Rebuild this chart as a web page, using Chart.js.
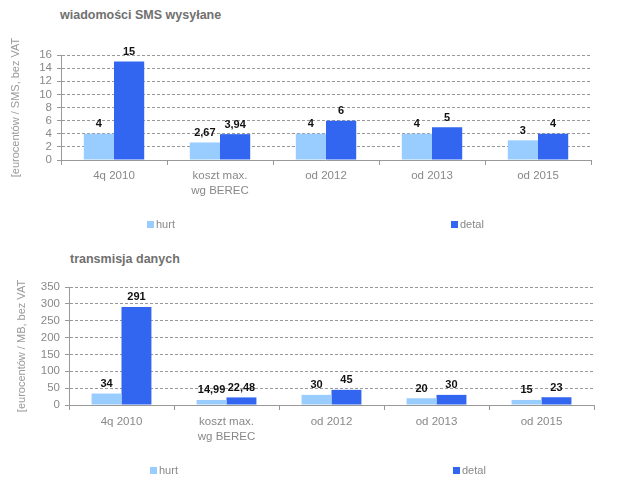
<!DOCTYPE html>
<html>
<head>
<meta charset="utf-8">
<script src="https://cdn.jsdelivr.net/npm/chart.js@4"></script>
<style>
  body { margin: 0; background: #fff; }
  #wrap { position: relative; width: 640px; height: 493px; font-family: "Liberation Sans", Arial, sans-serif; }
  canvas { position: absolute; left: 0; }
  .title { position: absolute; font-weight: bold; font-size: 12.5px; color: #707070; line-height: 16px; white-space: nowrap; }
  .leg { position: absolute; font-size: 11px; color: #888; line-height: 12px; white-space: nowrap; }
  .leg i { display: inline-block; width: 7px; height: 7px; margin-right: 2px; vertical-align: 0px; }
</style>
</head>
<body>
<div id="wrap">
  <div class="title" style="left:60px; top:7px;">wiadomości SMS wysyłane</div>
  <canvas id="smsChart" width="640" height="245" style="top:0"></canvas>
  <div class="title" style="left:70px; top:251px;">transmisja danych</div>
  <canvas id="dataChart" width="640" height="248" style="top:245px"></canvas>
</div>
<script>
// kategorie i serie
const categories = ['4q 2010', ['koszt max.', 'wg BEREC'], 'od 2012', 'od 2013', 'od 2015'];
const seriesNames = ['hurt', 'detal'];
const seriesColors = ['#99CCFF', '#3366F0'];

// wiadomości SMS (eurocenty / SMS)
const smsHurt = [4, 2.67, 4, 4, 3];
const smsDetal = [15, 3.94, 6, 5, 4];
const smsAxis = { max: 16, step: 2, title: '[eurocentów / SMS, bez VAT' };

// transmisja danych (eurocenty / MB)
const dataHurt = [34, 14.99, 30, 20, 15];
const dataDetal = [291, 22.48, 45, 30, 23];
const dataAxis = { max: 350, step: 50, title: '[eurocentów / MB, bez VAT' };

const fontFamily = '"Liberation Sans", Arial, sans-serif';

// etykiety wartości nad słupkami
const valueLabels = {
    id: 'valueLabels',
    afterDatasetsDraw(chart) {
        const ctx = chart.ctx;
        ctx.save();
        ctx.font = 'bold 11px ' + fontFamily;
        ctx.fillStyle = '#111';
        ctx.textAlign = 'center';
        ctx.textBaseline = 'bottom';
        chart.data.datasets.forEach((ds, i) => {
            chart.getDatasetMeta(i).data.forEach((bar, j) => {
                ctx.fillText(String(ds.data[j]).replace('.', ','), bar.x, bar.y - 4);
            });
        });
        ctx.restore();
    }
};

function makeChart(id, hurt, detal, axis, box) {
    return new Chart(document.getElementById(id), {
        type: 'bar',
        data: {
            labels: categories,
            datasets: [{
                label: seriesNames[0],
                data: hurt,
                backgroundColor: seriesColors[0],
                borderWidth: 0
            }, {
                label: seriesNames[1],
                data: detal,
                backgroundColor: seriesColors[1],
                borderWidth: 0
            }]
        },
        options: {
            responsive: false,
            animation: false,
            devicePixelRatio: 1,
            categoryPercentage: 0.57,
            barPercentage: 1,
            layout: { padding: { top: box.top, right: box.right, left: 0, bottom: 0 } },
            plugins: { legend: { display: false }, tooltip: { enabled: false } },
            scales: {
                x: {
                    afterFit: s => { s.height = box.xHeight; },
                    grid: { drawOnChartArea: false, drawTicks: true, tickLength: 5, color: '#999' },
                    border: { color: '#999' },
                    ticks: {
                        color: '#888', padding: box.labelPad, maxRotation: 0, autoSkip: false,
                        font: { family: fontFamily, size: 11.5, lineHeight: 1.3 }
                    }
                },
                y: {
                    min: 0,
                    max: axis.max,
                    afterFit: s => { s.width = box.left; },
                    grid: { color: '#999', tickLength: 4, tickBorderDash: [] },
                    border: { color: '#999', dash: [3, 2] },
                    ticks: {
                        stepSize: axis.step, autoSkip: false, color: '#888', padding: 5,
                        font: { family: fontFamily, size: 11.5 }
                    },
                    title: {
                        display: true, text: axis.title, color: '#999',
                        padding: { top: box.titlePad, bottom: 0 },
                        font: { family: fontFamily, size: 11 }
                    }
                }
            }
        },
        plugins: [valueLabels]
    });
}

const smsChart = makeChart('smsChart', smsHurt, smsDetal, smsAxis,
    { top: 55, right: 49, left: 61, xHeight: 85, labelPad: 3, titlePad: 9 });
const dataChart = makeChart('dataChart', dataHurt, dataDetal, dataAxis,
    { top: 42, right: 46, left: 69, xHeight: 88, labelPad: 4, titlePad: 15 });

// legenda pod każdym wykresem (elementy szeroko rozstawione)
function addLegend(top, xs) {
    const wrap = document.getElementById('wrap');
    seriesNames.forEach((name, i) => {
        const el = document.createElement('div');
        el.className = 'leg';
        el.style.left = xs[i] + 'px';
        el.style.top = top + 'px';
        el.innerHTML = '<i style="background:' + seriesColors[i] + '"></i>' + name;
        wrap.appendChild(el);
    });
}
addLegend(218, [147, 451]);
addLegend(464, [150, 453]);
</script>
</body>
</html>
